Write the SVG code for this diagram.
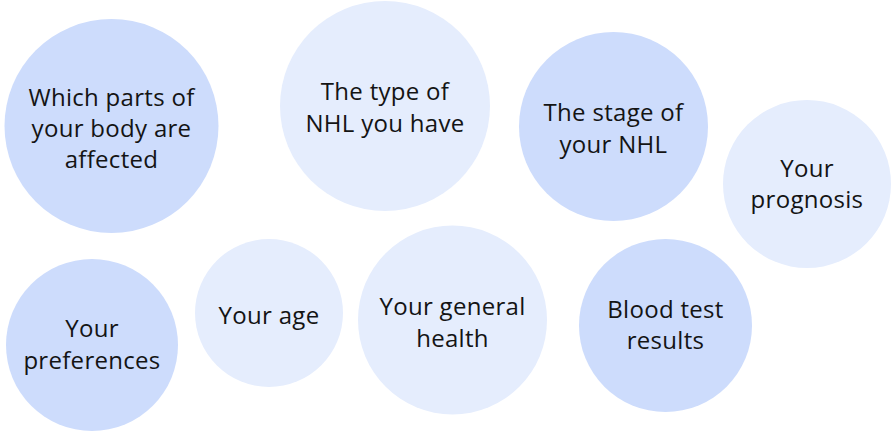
<svg xmlns="http://www.w3.org/2000/svg" width="894" height="431" viewBox="0 0 894 431">
<style>
.d{fill:#cddcfc}
.l{fill:#e5edfd}
text{font-family:"Open Sans","Liberation Sans",sans-serif;font-size:24px;letter-spacing:0.3px;fill:#141414;text-anchor:middle}
</style>
<rect width="894" height="431" fill="#fff"/>
<g id="n1"><circle class="d" cx="111.5" cy="126" r="107"/><text x="111.5" y="106">Which parts of</text><text x="111.5" y="137">your body are</text><text x="111.5" y="168">affected</text></g>
<g id="n2"><circle class="l" cx="385" cy="106" r="105"/><text x="385" y="100">The type of</text><text x="385" y="132">NHL you have</text></g>
<g id="n3"><circle class="d" cx="613.5" cy="126.5" r="94.5"/><text x="613.5" y="121">The stage of</text><text x="613.5" y="153">your NHL</text></g>
<g id="n4"><circle class="l" cx="807" cy="184" r="84"/><text x="807" y="177">Your</text><text x="807" y="208">prognosis</text></g>
<g id="n5"><circle class="d" cx="92" cy="345" r="86"/><text x="92" y="337">Your</text><text x="92" y="369">preferences</text></g>
<g id="n6"><circle class="l" cx="269" cy="313" r="74"/><text x="269" y="324">Your age</text></g>
<g id="n7"><circle class="l" cx="452.5" cy="320" r="94.5"/><text x="452.5" y="315">Your general</text><text x="452.5" y="347">health</text></g>
<g id="n8"><circle class="d" cx="665.5" cy="325.5" r="86.5"/><text x="665.5" y="318">Blood test</text><text x="665.5" y="349">results</text></g>
<g id="connectors"></g>
</svg>
